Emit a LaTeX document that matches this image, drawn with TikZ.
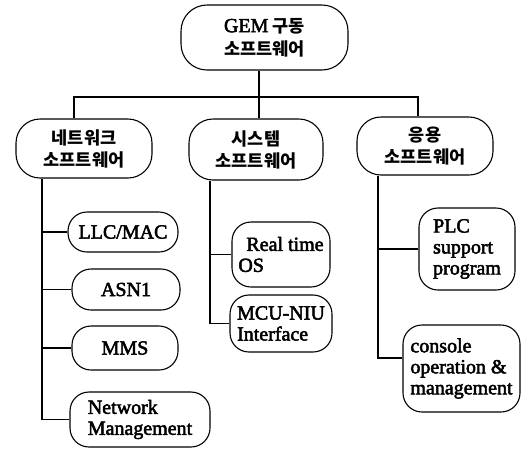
\documentclass[tikz,border=0pt]{standalone}
\usepackage{fontspec}
\setmainfont{Liberation Serif}[FakeBold=2.5]
\newfontfamily\krfont{Noto Sans CJK KR}
\newcommand\hg[1]{{\krfont\bfseries #1}}
\begin{document}
\begin{tikzpicture}[x=1pt,y=-1pt,line width=1.1pt,
  box/.style={draw,rounded corners=19pt,inner sep=2pt,align=center,
    font=\fontsize{20}{21}\selectfont},
  lbox/.style={box,align=left},
  krbox/.style={box,rounded corners=24pt,font=\fontsize{17.5}{22}\selectfont}]
\useasboundingbox (0,0) rectangle (521,448);

% root and the three software groups
\node[krbox,rounded corners=26pt,minimum width=167pt,minimum height=65pt] (top) at (264.5,37.5)
  {{\fontsize{20}{22}\selectfont GEM} \hg{구동}\\[1pt]\hg{소프트웨어}};
\node[krbox,minimum width=136pt,minimum height=59pt] (net) at (84,148.5)
  {\hg{네트워크}\\\hg{소프트웨어}};
\node[krbox,minimum width=134pt,minimum height=61pt] (sys) at (256,149.5)
  {\hg{시스템}\\\hg{소프트웨어}};
\node[krbox,minimum width=136pt,minimum height=58pt] (app) at (425,146)
  {\hg{응용}\\\hg{소프트웨어}};

% network software modules
\node[box,minimum width=110pt,minimum height=40pt] (llc) at (123,232) {LLC/MAC};
\node[box,minimum width=108pt,minimum height=41pt] (asn) at (126,289.5) {ASN1};
\node[box,minimum width=106pt,minimum height=44pt] (mms) at (125,348) {MMS};
\node[lbox,minimum width=140pt,minimum height=55pt] (nm) at (140,419.5) {Network\\Management};

% system software modules
\node[lbox,minimum width=98pt,minimum height=65pt] (rt) at (281,254.5) {\hspace*{8pt}Real time\\OS};
\node[lbox,minimum width=102pt,minimum height=57pt] (mcu) at (281,323.5) {MCU-NIU\\Interface};

% application software modules
\node[lbox,minimum width=96pt,minimum height=82pt] (plc) at (467,249) {PLC\\support\\program};
\node[lbox,inner sep=1pt,minimum width=117pt,minimum height=87pt] (con) at (461.5,368.5)
  {console\\operation \&\\management};

% bus from the root to the groups
\coordinate (bus) at (259,97);
\coordinate (jn) at (74,0);
\coordinate (ja) at (418,0);
\draw (top.south -| bus) -- (bus);
\draw (net.north -| jn) |- (bus) -| (app.north -| ja);
\draw (bus) -- (bus |- sys.north);

% network trunk
\coordinate (tn) at (42,0);
\draw (net.south -| tn) |- (nm.west);
\draw (tn |- llc.west) -- (llc.west);
\draw (tn |- asn.west) -- (asn.west);
\draw (tn |- mms.west) -- (mms.west);

% system trunk
\coordinate (ts) at (210,0);
\draw (sys.south -| ts) |- (mcu.west);
\draw (ts |- rt.west) -- (rt.west);

% application trunk
\coordinate (ta) at (378,0);
\coordinate (cb) at (378,358);
\draw (app.south -| ta) -- (cb) -- (cb -| con.west);
\draw (ta |- plc.west) -- (plc.west);
\end{tikzpicture}
\end{document}
